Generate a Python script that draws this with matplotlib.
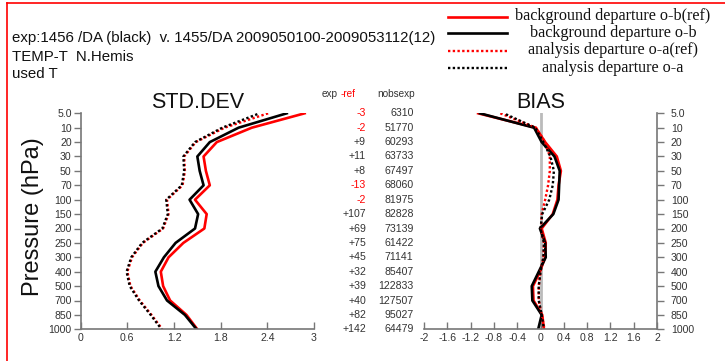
import matplotlib
matplotlib.use("Agg")
import matplotlib.pyplot as plt
from matplotlib.lines import Line2D
import numpy as np

# Pressure levels (hPa), top to bottom
levels = ["5.0", "10", "20", "30", "50", "70", "100", "150", "200", "250",
          "300", "400", "500", "700", "850", "1000"]

# Standard deviation of departures
std_ob_ref = [2.88, 2.20, 1.75, 1.58, 1.61, 1.66, 1.47, 1.62, 1.59, 1.32,
              1.13, 1.03, 1.06, 1.15, 1.36, 1.50]
std_ob = [2.65, 2.03, 1.66, 1.50, 1.53, 1.58, 1.40, 1.51, 1.47, 1.22,
          1.07, 0.96, 1.00, 1.11, 1.34, 1.49]
std_oa_ref = [2.41, 1.85, 1.48, 1.33, 1.34, 1.31, 1.11, 1.13, 1.06, 0.80,
              0.66, 0.60, 0.64, 0.76, 0.91, 1.05]
std_oa = [2.30, 1.82, 1.47, 1.32, 1.33, 1.30, 1.10, 1.12, 1.05, 0.79,
          0.65, 0.59, 0.63, 0.75, 0.90, 1.04]

# Mean departures (bias)
bias_ob_ref = [-1.07, -0.08, 0.08, 0.28, 0.35, 0.31, 0.29, 0.21, 0.02, 0.09,
               0.08, -0.01, -0.13, -0.12, 0.03, 0.06]
bias_ob = [-1.04, -0.11, 0.02, 0.24, 0.33, 0.32, 0.31, 0.22, -0.01, 0.08,
           0.09, -0.03, -0.15, -0.14, 0.02, -0.04]
bias_oa_ref = [-0.69, -0.08, 0.08, 0.16, 0.16, 0.13, 0.08, 0.02, 0.01, 0.06,
               0.05, 0.00, -0.03, -0.03, 0.02, 0.07]
bias_oa = [-0.63, -0.09, 0.05, 0.17, 0.23, 0.21, 0.15, 0.03, 0.00, 0.06,
           0.05, 0.00, -0.03, -0.03, 0.02, 0.06]

# Observation counts
exp_minus_ref = [-3, -2, 9, 11, 8, -13, -2, 107, 69, 75, 45, 32, 39, 40, 82, 142]
nobs_exp = [6310, 51770, 60293, 63733, 67497, 68060, 81975, 82828, 73139,
            61422, 71141, 85407, 122833, 127507, 95027, 64479]

std_ticks = [0, 0.6, 1.2, 1.8, 2.4, 3]
std_ticklabels = ["0", "0.6", "1.2", "1.8", "2.4", "3"]
bias_ticks = [-2, -1.6, -1.2, -0.8, -0.4, 0, 0.4, 0.8, 1.2, 1.6, 2]
bias_ticklabels = ["-2", "-1.6", "-1.2", "-0.8", "-0.4", "0", "0.4", "0.8",
                   "1.2", "1.6", "2"]

W, H = 725, 361
RED = "#ff0000"
TXT = "#333333"
plt.rcParams["font.family"] = ["Liberation Sans", "DejaVu Sans"]

fig = plt.figure(figsize=(W / 100, H / 100), dpi=100)

def fx(px):
    return px / W

def fy(py):
    return 1 - py / H

y = np.arange(len(levels))
top_px, bot_px = 113.3, 329.3

ax1 = fig.add_axes([fx(80.7), fy(bot_px), fx(314) - fx(80.7), fy(top_px) - fy(bot_px)])
ax2 = fig.add_axes([fx(424), fy(bot_px), fx(657) - fx(424), fy(top_px) - fy(bot_px)])

solid_lw = 1.9
dot_lw = 1.7
tick_fs = 7.6

# STD.DEV panel
ax1.plot(std_ob_ref, y, color=RED, lw=solid_lw)
ax1.plot(std_ob, y, color="black", lw=solid_lw)
ax1.plot(std_oa_ref, y, color=RED, lw=dot_lw, linestyle=(0, (1, 1)))
ax1.plot(std_oa, y, color="black", lw=dot_lw, linestyle=(1, (1, 1)))
ax1.set_xlim(0, 3)
ax1.set_ylim(len(levels) - 1, 0)
for s in ("top", "right"):
    ax1.spines[s].set_visible(False)
for s in ("left", "bottom"):
    ax1.spines[s].set_color("#777777")
    ax1.spines[s].set_linewidth(1.2)
ax1.set_xticks(std_ticks)
ax1.set_xticklabels(std_ticklabels)
ax1.set_yticks(y)
ax1.set_yticklabels(levels)
ax1.tick_params(axis="x", direction="in", length=5, width=1, color="#777777",
                labelsize=tick_fs, labelcolor=TXT, pad=3)
ax1.tick_params(axis="y", direction="out", length=5, width=1, color="#777777",
                labelsize=tick_fs, labelcolor=TXT, pad=1.5)
ax1.patch.set_alpha(0)
ax1.text(1.5, -0.35, "STD.DEV", ha="center", va="baseline", fontsize=15.5,
         color="#111111", clip_on=False)

# BIAS panel
ax2.axvline(0, color="#bbbbbb", lw=2, zorder=0)
ax2.plot(bias_ob_ref, y, color=RED, lw=solid_lw)
ax2.plot(bias_ob, y, color="black", lw=solid_lw)
ax2.plot(bias_oa_ref, y, color=RED, lw=dot_lw, linestyle=(0, (1, 1)))
ax2.plot(bias_oa, y, color="black", lw=dot_lw, linestyle=(1, (1, 1)))
ax2.set_xlim(-2, 2)
ax2.set_ylim(len(levels) - 1, 0)
for s in ("top", "left"):
    ax2.spines[s].set_visible(False)
for s in ("right", "bottom"):
    ax2.spines[s].set_color("#777777")
    ax2.spines[s].set_linewidth(1.2)
ax2.set_xticks(bias_ticks)
ax2.set_xticklabels(bias_ticklabels)
ax2.yaxis.tick_right()
ax2.set_yticks(y)
ax2.set_yticklabels(levels)
ax2.tick_params(axis="x", direction="in", length=5, width=1, color="#777777",
                labelsize=tick_fs, labelcolor=TXT, pad=3)
ax2.tick_params(axis="y", direction="out", length=5, width=1, color="#777777",
                labelsize=tick_fs, labelcolor=TXT, pad=5)
ax2.patch.set_alpha(0)
ax2.text(0, -0.35, "BIAS", ha="center", va="baseline", fontsize=15.5,
         color="#111111", clip_on=False)

# Counts between the panels, aligned with the pressure levels
for i, (d, n) in enumerate(zip(exp_minus_ref, nobs_exp)):
    col = RED if d < 0 else TXT
    ax1.annotate(f"{d:+d}", xy=(fx(366), i), xycoords=("figure fraction", "data"),
                 ha="right", va="center", fontsize=tick_fs, color=col,
                 annotation_clip=False)
    ax1.annotate(f"{n}", xy=(fx(413.5), i), xycoords=("figure fraction", "data"),
                 ha="right", va="center", fontsize=tick_fs, color=TXT,
                 annotation_clip=False)

fig.text(fx(322), fy(94), "exp", ha="left", va="center", fontsize=7.2, color=TXT)
fig.text(fx(341), fy(94), "-ref", ha="left", va="center", fontsize=7.2, color=RED)
fig.text(fx(377), fy(94), "nobsexp", ha="left", va="center", fontsize=7.2, color=TXT)

# Axis title
fig.text(fx(33), fy(217), "Pressure (hPa)", rotation=90, ha="center", va="center",
         fontsize=17, color="#111111")

# Header lines
hdr_fs = 10.8
fig.text(fx(12), fy(38), "exp:1456 /DA (black)  v. 1455/DA 2009050100-2009053112(12)",
         ha="left", va="center", fontsize=hdr_fs, color="#111111")
fig.text(fx(12), fy(57), "TEMP-T  N.Hemis", ha="left", va="center", fontsize=hdr_fs,
         color="#111111")
fig.text(fx(12), fy(74), "used T", ha="left", va="center", fontsize=hdr_fs, color="#111111")

# Legend
leg_rows = [
    ("background departure o-b(ref)", RED, "-", 16.5),
    ("background departure o-b", "black", "-", 33.3),
    ("analysis departure o-a(ref)", RED, ":", 50.5),
    ("analysis departure o-a", "black", ":", 67.5),
]
for label, col, ls, py in leg_rows:
    lstyle = "-" if ls == "-" else (0, (1, 1))
    lw = solid_lw if ls == "-" else dot_lw
    fig.add_artist(Line2D([fx(448), fx(507)], [fy(py), fy(py)], color=col, lw=lw,
                          linestyle=lstyle))
    fig.text(fx(613), fy(py), label, ha="center", va="center", fontsize=11.6,
             family=["Liberation Serif", "DejaVu Serif"], color="#111111")

# Frame lines along the top and left edges
fig.add_artist(Line2D([fx(7), 1], [fy(3), fy(3)], color=RED, lw=1.2))
fig.add_artist(Line2D([fx(7), fx(7)], [fy(3), 0], color=RED, lw=1.2))

fig.savefig("out.png", dpi=100)
